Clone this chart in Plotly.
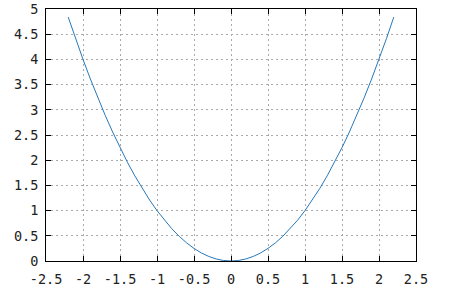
import plotly.graph_objects as go

x_vals = [-2.2, -2.1, -2.0, -1.9, -1.8, -1.7, -1.6, -1.5, -1.4, -1.3, -1.2, -1.1, -1.0,
          -0.9, -0.8, -0.7, -0.6, -0.5, -0.4, -0.3, -0.2, -0.1, 0.0, 0.1, 0.2, 0.3, 0.4,
          0.5, 0.6, 0.7, 0.8, 0.9, 1.0, 1.1, 1.2, 1.3, 1.4, 1.5, 1.6, 1.7, 1.8, 1.9, 2.0,
          2.1, 2.2]
y_vals = [4.84, 4.41, 4.0, 3.61, 3.24, 2.89, 2.56, 2.25, 1.96, 1.69, 1.44, 1.21, 1.0,
          0.81, 0.64, 0.49, 0.36, 0.25, 0.16, 0.09, 0.04, 0.01, 0.0, 0.01, 0.04, 0.09, 0.16,
          0.25, 0.36, 0.49, 0.64, 0.81, 1.0, 1.21, 1.44, 1.69, 1.96, 2.25, 2.56, 2.89, 3.24,
          3.61, 4.0, 4.41, 4.84]
x_ticks = [-2.5, -2, -1.5, -1, -0.5, 0, 0.5, 1, 1.5, 2, 2.5]
x_tick_labels = ["-2.5", "-2", "-1.5", "-1", "-0.5", "0", "0.5", "1", "1.5", "2", "2.5"]
y_ticks = [0, 0.5, 1, 1.5, 2, 2.5, 3, 3.5, 4, 4.5, 5]
y_tick_labels = ["0", "0.5", "1", "1.5", "2", "2.5", "3", "3.5", "4", "4.5", "5"]

fig = go.Figure()
fig.add_trace(go.Scatter(x=x_vals, y=y_vals, mode="lines",
                         line=dict(color="#2878b8", width=1), showlegend=False))

axis_common = dict(
    showline=True, linecolor="black", linewidth=1, mirror="ticks",
    ticks="inside", ticklen=5, tickcolor="black", tickwidth=1,
    showgrid=True, gridcolor="#aaaaaa", gridwidth=1, griddash="2px,3px",
    zeroline=False, automargin=False,
    tickfont=dict(family="DejaVu Sans Mono", size=13.5, color="#222222"),
)
fig.update_xaxes(range=[-2.5, 2.5], tickvals=x_ticks, ticktext=x_tick_labels,
                 ticklabelstandoff=6, **axis_common)
fig.update_yaxes(range=[0, 5], tickvals=y_ticks, ticktext=y_tick_labels,
                 ticklabelstandoff=4, **axis_common)

fig.update_layout(
    width=460, height=290,
    margin=dict(l=46, r=44, t=9, b=29, pad=0),
    paper_bgcolor="white", plot_bgcolor="white",
)
fig.write_html("out.html")
